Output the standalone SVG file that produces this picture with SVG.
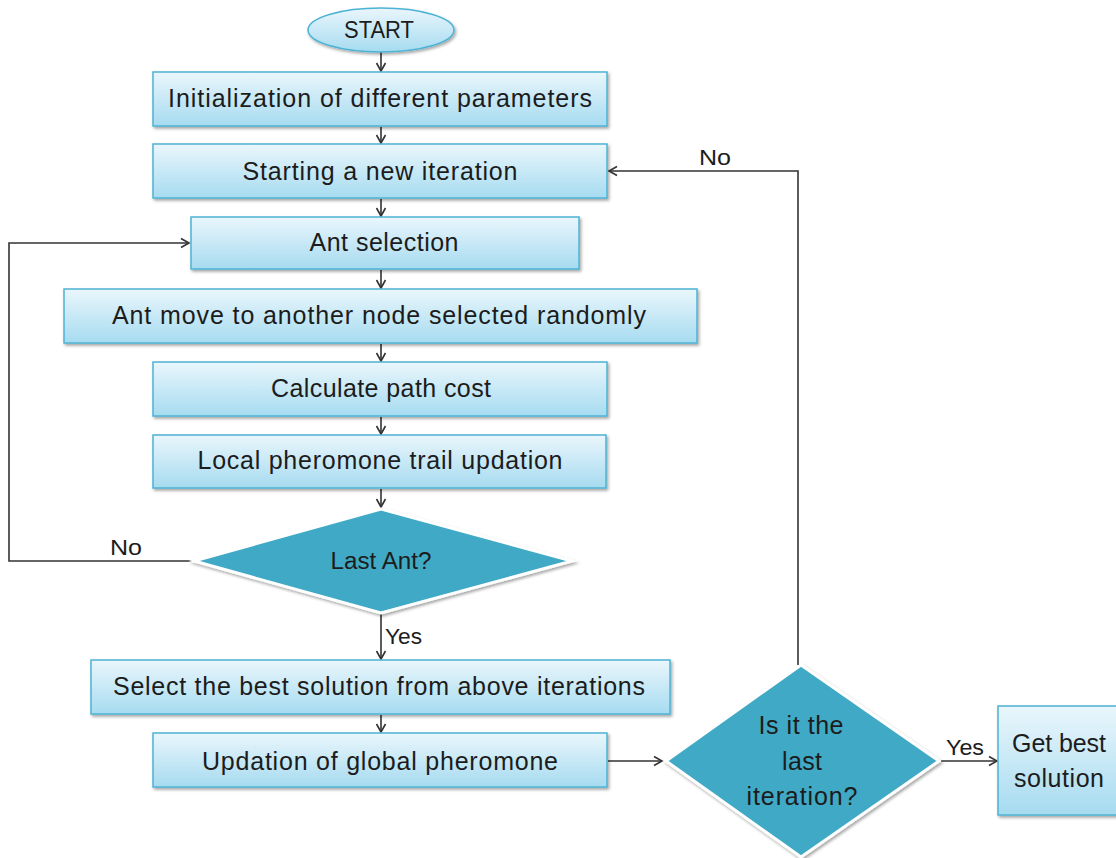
<svg xmlns="http://www.w3.org/2000/svg" width="1116" height="858" viewBox="0 0 1116 858">
<defs>
<linearGradient id="boxg" x1="0" y1="0" x2="0" y2="1">
<stop offset="0" stop-color="#eaf6fc"/>
<stop offset="1" stop-color="#a6dbf0"/>
</linearGradient>
<filter id="sh" x="-10%" y="-10%" width="120%" height="130%">
<feDropShadow dx="1.5" dy="2" stdDeviation="1.5" flood-color="#000" flood-opacity="0.35"/>
</filter>
<marker id="arr" markerWidth="12" markerHeight="12" refX="10" refY="6" orient="auto" markerUnits="userSpaceOnUse">
<path d="M2,1.5 L10,6 L2,10.5" fill="none" stroke="#333" stroke-width="1.6"/>
</marker>
</defs>
<style>
.box{fill:url(#boxg);stroke:#4db3d4;stroke-width:1.5;filter:url(#sh)}
.dia{fill:#3fa9c5;stroke:#fff;stroke-width:3;filter:url(#sh)}
.t{font-family:"Liberation Sans",Arial,sans-serif;font-size:25px;fill:#1c1c1c;text-anchor:middle}
.s{font-size:23px}
.lbl{font-family:"Liberation Sans",Arial,sans-serif;font-size:22px;fill:#1c1c1c}
.c{fill:none;stroke:#333;stroke-width:1.6}
</style>
<rect width="1116" height="858" fill="#fff"/>
<g id="connectors">
<line class="c" x1="381" y1="52" x2="381" y2="71" marker-end="url(#arr)"/>
<line class="c" x1="381" y1="127" x2="381" y2="143" marker-end="url(#arr)"/>
<line class="c" x1="381" y1="199" x2="381" y2="216" marker-end="url(#arr)"/>
<line class="c" x1="381" y1="270" x2="381" y2="288" marker-end="url(#arr)"/>
<line class="c" x1="381" y1="344" x2="381" y2="361" marker-end="url(#arr)"/>
<line class="c" x1="381" y1="417" x2="381" y2="434" marker-end="url(#arr)"/>
<line class="c" x1="381" y1="489" x2="381" y2="507" marker-end="url(#arr)"/>
<line class="c" x1="381" y1="614" x2="381" y2="659" marker-end="url(#arr)"/>
<line class="c" x1="381" y1="715" x2="381" y2="732" marker-end="url(#arr)"/>
<line class="c" x1="608" y1="761" x2="662" y2="761" marker-end="url(#arr)"/>
<line class="c" x1="941" y1="761" x2="997" y2="761" marker-end="url(#arr)"/>
<polyline class="c" points="192,561 9,561 9,243 189,243" marker-end="url(#arr)"/>
<polyline class="c" points="798,665 798,171 609,171" marker-end="url(#arr)"/>
<text class="lbl" x="110" y="555" textLength="32" lengthAdjust="spacingAndGlyphs">No</text>
<text class="lbl" x="699" y="165" textLength="32" lengthAdjust="spacingAndGlyphs">No</text>
<text class="lbl" x="385" y="644" textLength="37" lengthAdjust="spacingAndGlyphs">Yes</text>
<text class="lbl" x="946" y="755" textLength="38" lengthAdjust="spacingAndGlyphs">Yes</text>
</g>
<g id="start">
<ellipse cx="381" cy="30" rx="73" ry="22" fill="url(#boxg)" stroke="#4db3d4" stroke-width="1.5" filter="url(#sh)"/>
<text class="t s" x="379" y="38" textLength="70" lengthAdjust="spacingAndGlyphs">START</text>
</g>
<g id="init">
<rect class="box" x="153" y="72" width="454" height="54"/>
<text class="t" x="380" y="107" textLength="424">Initialization of different parameters</text>
</g>
<g id="newiter">
<rect class="box" x="153" y="144" width="454" height="54"/>
<text class="t" x="380" y="180" textLength="275">Starting a new iteration</text>
</g>
<g id="antsel">
<rect class="box" x="191" y="217" width="388" height="52"/>
<text class="t" x="384" y="251" textLength="149">Ant selection</text>
</g>
<g id="antmove">
<rect class="box" x="64" y="289" width="633" height="54"/>
<text class="t" x="379" y="324" textLength="534">Ant move to another node selected randomly</text>
</g>
<g id="pathcost">
<rect class="box" x="153" y="362" width="454" height="54"/>
<text class="t" x="381" y="397" textLength="220">Calculate path cost</text>
</g>
<g id="localpher">
<rect class="box" x="153" y="435" width="453" height="53"/>
<text class="t" x="380" y="469" textLength="365">Local pheromone trail updation</text>
</g>
<g id="lastant">
<polygon class="dia" points="381,509 572,561 381,613 194,561"/>
<text class="t s" x="381" y="569" textLength="101" lengthAdjust="spacingAndGlyphs">Last Ant?</text>
</g>
<g id="selectbest">
<rect class="box" x="91" y="660" width="579" height="54"/>
<text class="t" x="379" y="695" textLength="532">Select the best solution from above iterations</text>
</g>
<g id="globalpher">
<rect class="box" x="153" y="733" width="454" height="54"/>
<text class="t" x="380" y="770" textLength="356">Updation of global pheromone</text>
</g>
<g id="lastiter">
<polygon class="dia" points="801,665 939,761 801,857 666,761"/>
<text class="t" x="801" y="734" textLength="85">Is it the</text>
<text class="t" x="802" y="770" textLength="40">last</text>
<text class="t" x="802" y="805" textLength="111">iteration?</text>
</g>
<g id="getbest">
<rect class="box" x="998" y="706" width="130" height="109"/>
<text class="t" x="1059" y="752" textLength="94">Get best</text>
<text class="t" x="1059" y="787" textLength="90">solution</text>
</g>
</svg>
